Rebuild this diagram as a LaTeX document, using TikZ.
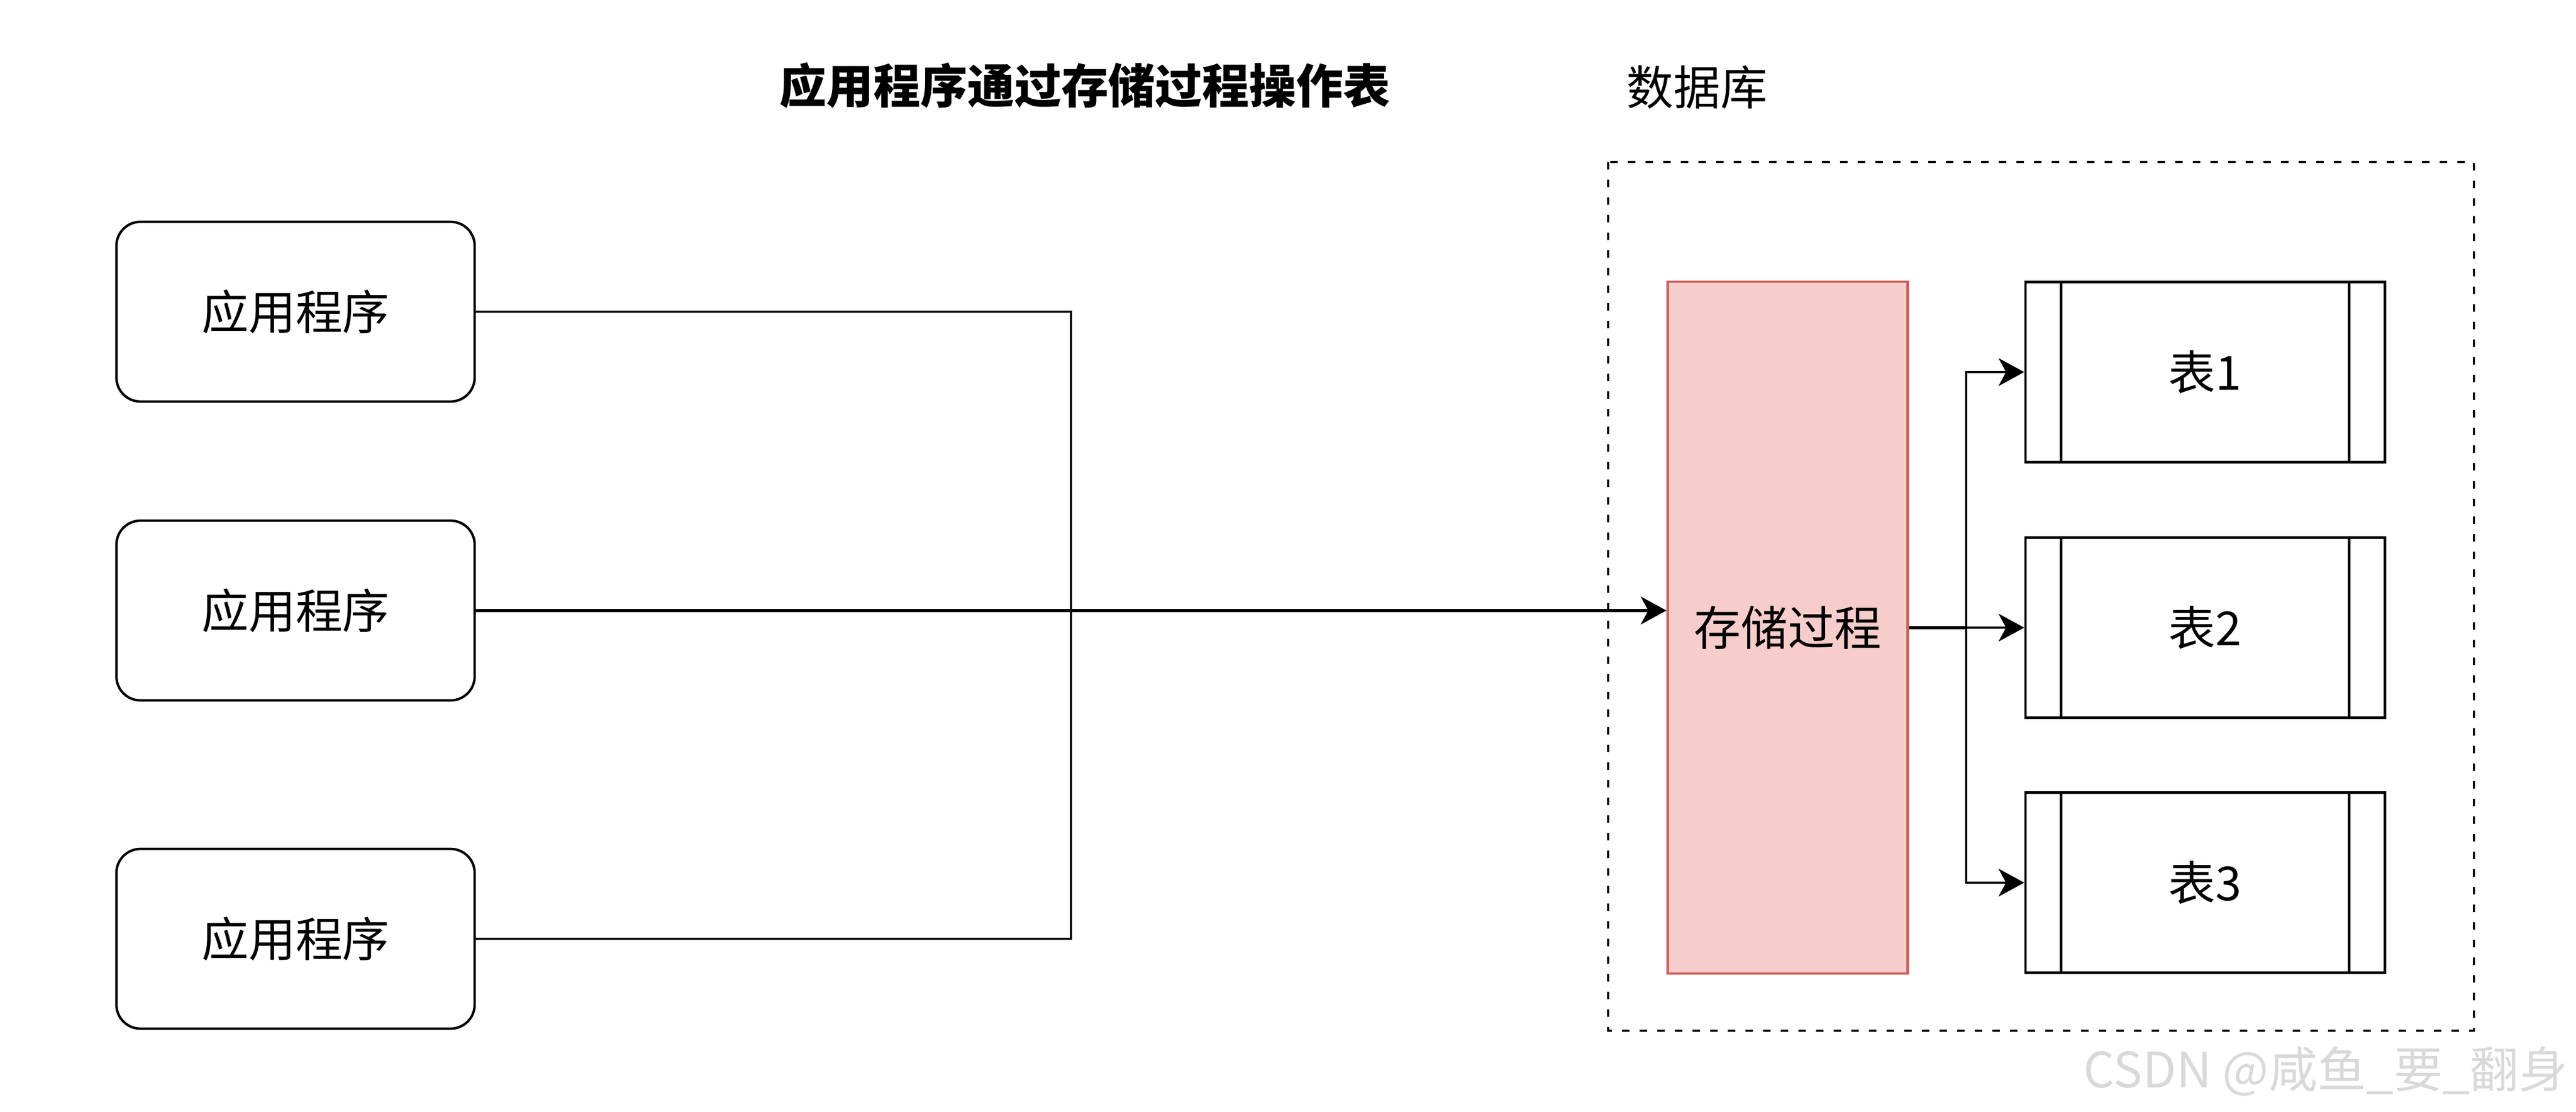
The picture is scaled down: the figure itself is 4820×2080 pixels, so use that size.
\documentclass[tikz,border=0pt]{standalone}
\usepackage{fontspec}
\setmainfont{Noto Sans CJK SC}
\usetikzlibrary{arrows.meta,positioning}
\definecolor{procfill}{HTML}{F6CDCB}
\definecolor{procline}{HTML}{D0605C}
\tikzset{
  txt/.style={font=\fontsize{25}{30}\selectfont},
  appbox/.style={draw,txt,rounded corners=0.45cm,line width=1.3pt,minimum width=6.7cm,minimum height=3.36cm},
  procbox/.style={draw=procline,fill=procfill,txt,line width=1.3pt,minimum width=4.49cm,minimum height=12.93cm},
  tblbox/.style={draw,txt,line width=1.3pt,minimum width=6.72cm,minimum height=3.37cm},
  arr/.style={line width=1.3pt,-{Stealth[length=0.48cm,width=0.52cm,inset=0.14cm]}},
  wire/.style={line width=1.3pt}
}

\begin{document}
\begin{tikzpicture}[x=0.01cm,y=-0.01cm]
\useasboundingbox (0,0) rectangle (4820,2080);

\node (title) at (2030,160) [font=\fontsize{25}{30}\selectfont\bfseries] {应用程序通过存储过程操作表};
\node (dblabel) at (3043,163) [anchor=west,txt,inner sep=0pt] {数据库};
\draw[line width=1.3pt,dash pattern=on 0.14cm off 0.19cm] (3009,303) rectangle (4629,1928);

\node (app1) at (553,583) [appbox] {应用程序};
\node (app2) at (553,1142) [appbox] {应用程序};
\node (app3) at (553,1756) [appbox] {应用程序};

\node (proc) at (3345,1174) [procbox] {存储过程};

\node (t1) at (4126,696) [tblbox] {表1};
\node (t2) at (4126,1174) [tblbox] {表2};
\node (t3) at (4126,1651) [tblbox] {表3};

\foreach \i in {1,2,3} {
\draw[wire] ([xshift=0.69cm]t\i.north west) -- ([xshift=0.69cm]t\i.south west);
\draw[wire] ([xshift=-0.69cm]t\i.north east) -- ([xshift=-0.69cm]t\i.south east);
}

\coordinate (jn) at (2004,1142);
\coordinate (br) at (3679,1174);

\draw[wire] (app1.east) -| (jn);
\draw[wire] (app3.east) -| (jn);
\draw[arr,line width=1.7pt] (app2.east) -- (proc.west |- app2.east);

\draw[wire,line width=1.7pt] (proc.east) -- (br);
\foreach \i in {1,2,3} {
\draw[arr] (br) |- (t\i.west);
};

\node (mark) at (3898,2004) [anchor=west,inner sep=0pt,text=gray!30,font=\fontsize{26}{30}\selectfont] {CSDN @咸鱼\_要\_翻身};
\end{tikzpicture}
\end{document}
